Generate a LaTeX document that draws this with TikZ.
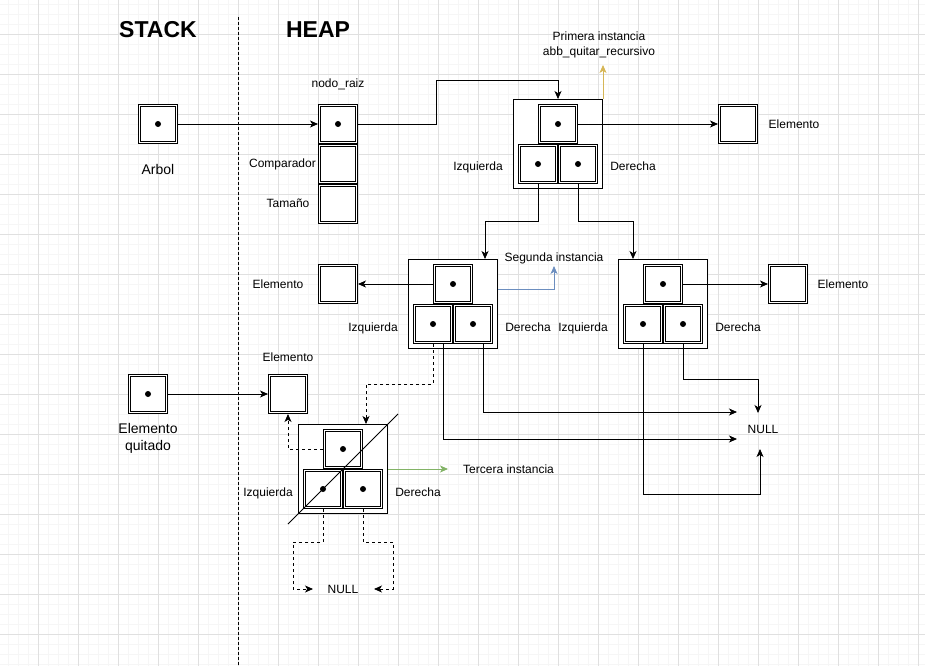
\documentclass[tikz,border=0pt]{standalone}
\usepackage{fontspec}
\setmainfont{Liberation Sans}
\usetikzlibrary{arrows.meta,positioning}
\definecolor{gridmajor}{HTML}{E0E0E0}
\definecolor{gridminor}{HTML}{F6F6F6}
\definecolor{oro}{HTML}{D6B656}
\definecolor{azul}{HTML}{6C8EBF}
\definecolor{verde}{HTML}{82B366}
\tikzset{
  cell/.style={draw,double,double distance=1.6pt,line width=0.7pt,fill=white,minimum size=37pt,inner sep=0pt,outer sep=1.5pt},
  dotcell/.style={cell,path picture={\fill[black] (path picture bounding box.center) circle (3pt);}},
  inst/.style={draw,fill=white,line width=0.8pt,minimum size=89.2pt,inner sep=0pt},
  lbl/.style={font=\fontsize{12}{14.5}\selectfont,inner sep=0pt,text height=8.6pt,text depth=0pt},
  big/.style={font=\fontsize{14}{17}\selectfont,inner sep=0pt,align=center},
  titulo/.style={font=\fontsize{23}{27}\selectfont\bfseries,inner sep=0pt,text height=16.5pt,text depth=0pt},
  arr/.style={-{Stealth[length=8pt,width=7pt,inset=2.2pt]},line width=0.8pt},
  punteado/.style={dash pattern=on 3pt off 3pt},
  divisor/.style={line width=0.8pt,dash pattern=on 3pt off 2pt}
}
\begin{document}
\begin{tikzpicture}[x=1pt,y=-1pt]
\useasboundingbox[fill=white] (0,0) rectangle (925,666);
\foreach \gx in {8,18,...,918} \draw[gridminor,line width=0.5pt] (\gx,0) -- (\gx,666);
\foreach \gy in {4,14,...,664} \draw[gridminor,line width=0.5pt] (0,\gy) -- (925,\gy);
\foreach \gx in {38,78,...,918} \draw[gridmajor,line width=0.6pt] (\gx,0) -- (\gx,666);
\foreach \gy in {34,74,...,634} \draw[gridmajor,line width=0.6pt] (0,\gy) -- (925,\gy);

\node[titulo] (stack) at (158,29) {STACK};
\node[titulo] (heap) at (318,29) {HEAP};
\coordinate (divtop) at (238,17);
\coordinate (divbot) at (238,666);
\draw[divisor] (divtop) -- (divbot);

\node[dotcell] (arbol) at (158,124) {};
\node[big,text height=10pt,text depth=0pt] (arbolt) at (158,169) {Arbol};

\node[lbl] (raizt) at (338,83) {nodo\_raiz};
\node[dotcell] (raiz) at (338,124) {};
\node[cell] (comp) at (338,164) {};
\node[cell] (tam) at (338,204) {};
\node[lbl,anchor=east] (compt) at (316,163) {Comparador};
\node[lbl] (tamt) at (288,203) {Tamaño};

\node[inst] (inst1) at (558,144) {};
\node[dotcell] (i1) at (558,124) {};
\node[dotcell] (i1l) at (538,164) {};
\node[dotcell] (i1r) at (578,164) {};
\node[lbl] (izq1) at (478,166) {Izquierda};
\node[lbl] (der1) at (633,166) {Derecha};
\node[cell] (elem1) at (738,124) {};
\node[lbl] (elem1t) at (794,124) {Elemento};
\node[font=\fontsize{12}{14.7}\selectfont,inner sep=0pt,align=center] (prim) at (599,45) {Primera instancia\\abb\_quitar\_recursivo};

\node[inst] (inst2) at (453,304) {};
\node[dotcell] (i2) at (453,284) {};
\node[dotcell] (i2l) at (433,324) {};
\node[dotcell] (i2r) at (473,324) {};
\node[lbl] (izq2) at (373,327) {Izquierda};
\node[lbl] (der2) at (528,327) {Derecha};
\node[cell] (elem2) at (338,284) {};
\node[lbl] (elem2t) at (278,284) {Elemento};
\node[lbl] (seg) at (554,257) {Segunda instancia};

\node[inst] (inst3) at (663,304) {};
\node[dotcell] (i3) at (663,284) {};
\node[dotcell] (i3l) at (643,324) {};
\node[dotcell] (i3r) at (683,324) {};
\node[lbl] (izq3) at (583,327) {Izquierda};
\node[lbl] (der3) at (738,327) {Derecha};
\node[cell] (elem3) at (788,284) {};
\node[lbl] (elem3t) at (843,284) {Elemento};
\node[lbl] (null1) at (763,429) {NULL};

\node[dotcell] (quit) at (148,394) {};
\node[big] (quitt) at (148,438) {Elemento\\quitado};
\node[cell] (elem4) at (288,394) {};
\node[lbl] (elem4t) at (288,357) {Elemento};

\node[inst] (inst4) at (343,469) {};
\node[dotcell] (i4) at (343,449) {};
\node[dotcell] (i4l) at (323,489) {};
\node[dotcell] (i4r) at (363,489) {};
\node[lbl] (izq4) at (268,492) {Izquierda};
\node[lbl] (der4) at (418,492) {Derecha};
\node[lbl,anchor=west] (terc) at (463,469) {Tercera instancia};
\node[lbl] (null2) at (343,589) {NULL};

\draw[arr] (arbol) -- (raiz);
\draw[arr] (raiz.east) -| (436,80) -| (inst1.north);
\draw[arr] (i1.east) -- (elem1);
\draw[arr,oro] (inst1.north east) -- ++(0,-34);
\draw[arr] (i1l.south) |- (485,221) -- (485,221 |- inst2.north);
\draw[arr] (i1r.south) |- (633,221) -- (633,221 |- inst3.north);

\draw[arr] (i2.west) -- (elem2);
\draw[arr,azul] ([yshift=15pt]inst2.east) -| (554,266);
\draw[arr] ([xshift=10pt]i2l.south) |- (737,439);
\draw[arr] ([xshift=10pt]i2r.south) |- (737,412);
\draw[arr,punteado] (i2l.south) |- (366,384) -- (366,384 |- inst4.north);

\draw[arr] (i3.east) -- (elem3);
\draw[arr] (i3l.south) |- (760,494) -- (760,449);
\draw[arr] (i3r.south) |- (758,379) -- (758,413);

\draw[arr] (quit) -- (elem4);
\draw[line width=0.8pt] ([shift={(-10,10)}]inst4.south west) -- ([shift={(10,-10)}]inst4.north east);
\draw[arr,punteado] (i4.west) -| (elem4.south);
\draw[arr,verde] (inst4.east) -- ++(60,0);
\draw[arr,punteado] (i4l.south) |- (293,542) |- (313,589);
\draw[arr,punteado] (i4r.south) |- (393,542) |- (374,589);
\end{tikzpicture}
\end{document}
